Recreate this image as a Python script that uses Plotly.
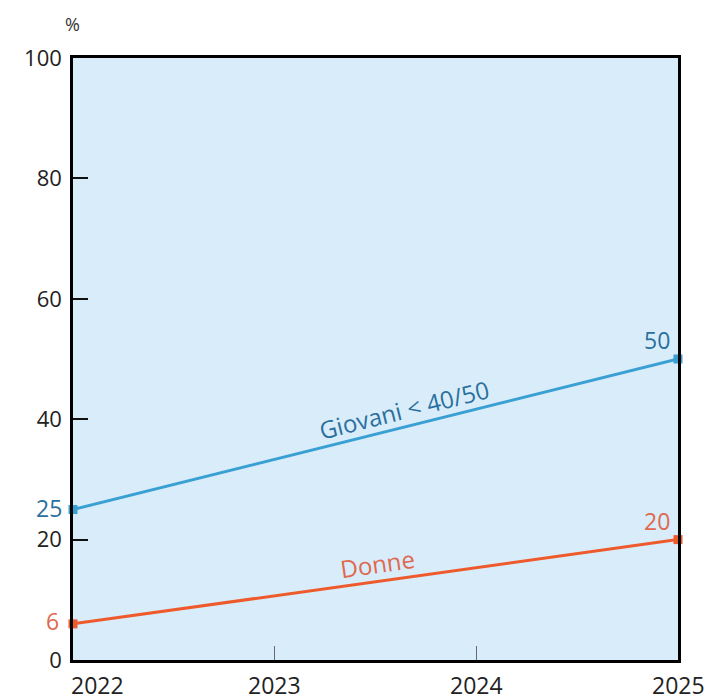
import plotly.graph_objects as go

years = [2022, 2023, 2024, 2025]
year_labels = ["2022", "2023", "2024", "2025"]
giovani_x = [2022, 2025]
giovani_y = [25, 50]
donne_x = [2022, 2025]
donne_y = [6, 20]
y_ticks = [0, 20, 40, 60, 80, 100]

BLUE = "#3aa0d4"
BLUE_TXT = "#2a6f9e"
RED = "#ee5a2c"
RED_TXT = "#e06850"
FONT = "Open Sans"

fig = go.Figure()
fig.add_trace(go.Scatter(x=giovani_x, y=giovani_y, mode="lines+markers",
                         line=dict(color=BLUE, width=3),
                         marker=dict(symbol="square", size=9, color=BLUE),
                         cliponaxis=False, showlegend=False, hoverinfo="skip"))
fig.add_trace(go.Scatter(x=donne_x, y=donne_y, mode="lines+markers",
                         line=dict(color=RED, width=3),
                         marker=dict(symbol="square", size=9, color=RED),
                         cliponaxis=False, showlegend=False, hoverinfo="skip"))

ann = []
# x tick labels
for yr, lab in zip(years, year_labels):
    ann.append(dict(x=yr, y=0, xref="x", yref="y", text=lab, showarrow=False,
                    xanchor="left" if yr == years[0] else "center",
                    yanchor="top", yshift=-7, xshift=-4 if yr == years[0] else 0,
                    font=dict(family=FONT, size=23, color="#222")))
# value labels
ann.append(dict(x=giovani_x[0], y=giovani_y[0], text=str(giovani_y[0]), showarrow=False,
                xanchor="right", yanchor="middle", xshift=-9, yshift=2,
                font=dict(family=FONT, size=23, color=BLUE_TXT)))
ann.append(dict(x=donne_x[0], y=donne_y[0], text=str(donne_y[0]), showarrow=False,
                xanchor="right", yanchor="middle", xshift=-12, yshift=3,
                font=dict(family=FONT, size=23, color=RED_TXT)))
ann.append(dict(x=giovani_x[1], y=giovani_y[1], text=str(giovani_y[1]), showarrow=False,
                xanchor="right", yanchor="bottom", xshift=-6, yshift=1,
                font=dict(family=FONT, size=23, color=BLUE_TXT)))
ann.append(dict(x=donne_x[1], y=donne_y[1], text=str(donne_y[1]), showarrow=False,
                xanchor="right", yanchor="bottom", xshift=-6, yshift=1,
                font=dict(family=FONT, size=23, color=RED_TXT)))
# series labels along lines
gx = 2023.64
gy = giovani_y[0] + (giovani_y[1] - giovani_y[0]) * (gx - giovani_x[0]) / (giovani_x[1] - giovani_x[0])
ann.append(dict(x=gx, y=gy, text="Giovani < 40/50", showarrow=False, textangle=-14,
                xanchor="center", yanchor="middle", yshift=18,
                font=dict(family=FONT, size=24, color=BLUE_TXT)))
dx = 2023.51
dy = donne_y[0] + (donne_y[1] - donne_y[0]) * (dx - donne_x[0]) / (donne_x[1] - donne_x[0])
ann.append(dict(x=dx, y=dy, text="Donne", showarrow=False, textangle=-8,
                xanchor="center", yanchor="middle", yshift=18,
                font=dict(family=FONT, size=24, color=RED_TXT)))
# % label
ann.append(dict(x=0, y=1, xref="paper", yref="paper", text="%", showarrow=False,
                xanchor="center", yanchor="bottom", xshift=-1, yshift=20,
                font=dict(family=FONT, size=18, color="#333")))

# page body adds an 8px offset, so the figure is sized/margined to compensate
fig.update_layout(
    width=705, height=692,
    margin=dict(l=65, r=35, t=50, b=40),
    paper_bgcolor="white", plot_bgcolor="#d8edf9",
    annotations=ann,
    xaxis=dict(range=[years[0], years[-1]], tickvals=years, showticklabels=False,
               ticks="inside", ticklen=14, tickwidth=1, tickcolor="#667",
               showline=True, linecolor="black", linewidth=2.5, mirror=True,
               showgrid=False, zeroline=False, fixedrange=True),
    yaxis=dict(range=[0, 100], tickvals=y_ticks, ticks="inside", ticklen=15,
               tickwidth=2, tickcolor="#111",
               tickfont=dict(family=FONT, size=22, color="#222"),
               ticklabelstandoff=4,
               showline=True, linecolor="black", linewidth=2.5, mirror=True,
               showgrid=False, zeroline=False, fixedrange=True),
)
fig.write_html("out.html")
